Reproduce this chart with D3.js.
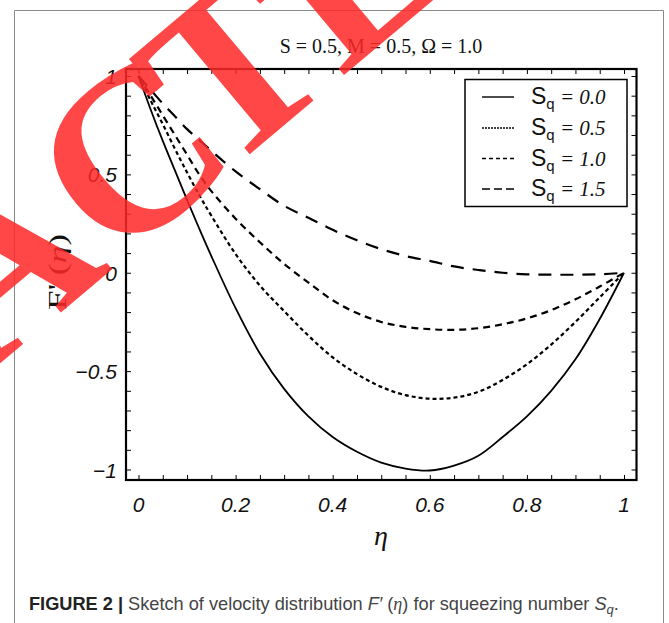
<!DOCTYPE html>
<html><head><meta charset="utf-8">
<script src="https://cdn.jsdelivr.net/npm/d3@7"></script>
<style>body{margin:0;background:#fff} svg{display:block}</style>
</head><body><svg id="c" width="669" height="623"></svg>
<script>
// ---- data ----
const eta  = [0, 0.025, 0.05, 0.075, 0.1, 0.125, 0.15, 0.2, 0.25, 0.3, 0.35, 0.4, 0.45, 0.5, 0.55, 0.6, 0.65, 0.7, 0.75, 0.8, 0.85, 0.9, 0.95, 1];
const sq00 = [1, 0.83, 0.67, 0.52, 0.37, 0.225, 0.085, -0.18, -0.41, -0.59, -0.73, -0.835, -0.91, -0.965, -0.995, -1.005, -0.98, -0.93, -0.835, -0.73, -0.6, -0.44, -0.235, 0];
const sq05 = [1, 0.875, 0.755, 0.63, 0.51, 0.395, 0.29, 0.095, -0.065, -0.195, -0.32, -0.43, -0.515, -0.58, -0.622, -0.64, -0.635, -0.605, -0.545, -0.465, -0.365, -0.25, -0.125, 0];
const sq10 = [1, 0.9, 0.8, 0.7, 0.6, 0.5, 0.415, 0.275, 0.155, 0.045, -0.05, -0.14, -0.205, -0.25, -0.275, -0.287, -0.29, -0.282, -0.262, -0.232, -0.19, -0.135, -0.07, 0];
const sq15 = [1, 0.93, 0.86, 0.795, 0.73, 0.675, 0.62, 0.515, 0.425, 0.34, 0.28, 0.218, 0.165, 0.12, 0.085, 0.06, 0.032, 0.014, 0.0, -0.008, -0.01, -0.01, -0.008, 0];
const sqValues = ["0.0", "0.5", "1.0", "1.5"];
const xTickValues = [0, 0.2, 0.4, 0.6, 0.8, 1];
const xTickLabels = ["0", "0.2", "0.4", "0.6", "0.8", "1"];
const yTickValues = [-1, -0.5, 0, 0.5, 1];
const yTickLabels = ["\u22121", "\u22120.5", "0", "0.5", "1"];
const watermark = "RETRACTED";

const series = [sq00, sq05, sq10, sq15];
const dashes = [null, "4,3", "7,5", "13,9"];
const legendDashes = [null, "2,1", "4,3", "8,4"];

const svg = d3.select("#c");
svg.append("rect").attr("width", 669).attr("height", 623).attr("fill", "#fff");

// outer figure border
svg.append("path").attr("d", "M14.5,623 V10.5 H663.5 V623")
  .attr("fill", "none").attr("stroke", "#8a8a8a").attr("stroke-width", 1);

// scales
const x = d3.scaleLinear().domain([0, 1]).range([138.5, 624]);
const y = d3.scaleLinear().domain([-1, 1]).range([469.5, 76]);
const L = 126, R = 636.5, T = 69, B = 480;

// ticks (inside, all four sides)
const xMinor = d3.range(0, 1.0001, 0.05);
const yMinor = d3.range(-1, 1.0001, 0.1);
const bx = d3.axisBottom(x).tickValues(xMinor).tickSize(-5).tickFormat("");
const tx = d3.axisTop(x).tickValues(xMinor).tickSize(-5).tickFormat("");
const ly = d3.axisLeft(y).tickValues(yMinor).tickSize(-5).tickFormat("");
const ry = d3.axisRight(y).tickValues(yMinor).tickSize(-5).tickFormat("");
svg.append("g").attr("transform", `translate(0,${B})`).call(bx).call(g => g.select(".domain").remove());
svg.append("g").attr("transform", `translate(0,${T})`).call(tx).call(g => g.select(".domain").remove());
svg.append("g").attr("transform", `translate(${L},0)`).call(ly).call(g => g.select(".domain").remove());
svg.append("g").attr("transform", `translate(${R},0)`).call(ry).call(g => g.select(".domain").remove());

// frame
svg.append("rect").attr("x", L).attr("y", T).attr("width", R - L).attr("height", B - T)
  .attr("fill", "none").attr("stroke", "#000").attr("stroke-width", 2.2);

// tick labels
svg.append("g").selectAll("text").data(xTickValues).join("text")
  .attr("x", d => x(d)).attr("y", 512).attr("text-anchor", "middle")
  .attr("font-family", "Liberation Sans, Arial, sans-serif").attr("font-style", "italic")
  .attr("font-size", 21).attr("fill", "#111")
  .text((d, i) => xTickLabels[i]);
svg.append("g").selectAll("text").data(yTickValues).join("text")
  .attr("x", 117).attr("y", d => y(d) + 8).attr("text-anchor", "end")
  .attr("font-family", "Liberation Sans, Arial, sans-serif").attr("font-style", "italic")
  .attr("font-size", 21).attr("fill", "#111")
  .text((d, i) => yTickLabels[i]);

// title
svg.append("text").attr("x", 381).attr("y", 53).attr("text-anchor", "middle")
  .attr("font-family", "Liberation Serif, Times New Roman, serif").attr("font-size", 20)
  .attr("fill", "#111").text("S = 0.5, M = 0.5, \u03A9 = 1.0");

// axis titles
const yt = svg.append("text").attr("transform", "translate(66,272) rotate(-90)").attr("text-anchor", "middle")
  .attr("font-family", "Liberation Serif, Times New Roman, serif").attr("font-size", 26)
  .attr("textLength", 76).attr("lengthAdjust", "spacingAndGlyphs").attr("fill", "#111");
yt.append("tspan").text("F' (");
yt.append("tspan").attr("font-style", "italic").text("\u03B7");
yt.append("tspan").text(")");
svg.append("text").attr("x", 381).attr("y", 545).attr("text-anchor", "middle")
  .attr("font-family", "Liberation Serif, Times New Roman, serif").attr("font-style", "italic")
  .attr("font-size", 28).attr("fill", "#111").text("\u03B7");

// curves
const line = d3.line().x((d, i) => x(eta[i])).y(d => y(d)).curve(d3.curveCatmullRom.alpha(0.5));
svg.append("g").selectAll("path").data(series).join("path")
  .attr("d", line).attr("fill", "none").attr("stroke", "#000")
  .attr("stroke-width", (d, i) => i === 0 ? 1.8 : 2.2)
  .attr("stroke-dasharray", (d, i) => dashes[i]);

// legend
const lg = svg.append("g");
lg.append("rect").attr("x", 465).attr("y", 79.5).attr("width", 162).attr("height", 127)
  .attr("fill", "#fff").attr("stroke", "#000").attr("stroke-width", 1.5);
const rowY = [97, 128, 158.5, 189];
sqValues.forEach((v, i) => {
  lg.append("line").attr("x1", 482).attr("x2", 514).attr("y1", rowY[i]).attr("y2", rowY[i])
    .attr("stroke", "#000").attr("stroke-width", 1.4).attr("stroke-dasharray", legendDashes[i]);
  const t = lg.append("text").attr("x", 531).attr("y", rowY[i] + 7).attr("fill", "#111").attr("font-size", 21);
  t.append("tspan").attr("font-family", "Liberation Sans, Arial, sans-serif").attr("font-size", 23).text("S");
  t.append("tspan").attr("font-family", "Liberation Sans, Arial, sans-serif").attr("font-size", 15).attr("dy", 5).text("q");
  t.append("tspan").attr("font-family", "Liberation Serif, Times New Roman, serif").attr("font-style", "italic").attr("dy", -5).text(" = " + v);
});

// caption
const cap = svg.append("text").attr("x", 29).attr("y", 610).attr("font-size", 18.2)
  .attr("font-family", "Liberation Sans, Arial, sans-serif").attr("fill", "#444");
cap.append("tspan").attr("font-weight", "bold").attr("fill", "#222").text("FIGURE 2 | ");
cap.append("tspan").text("Sketch of velocity distribution ");
cap.append("tspan").attr("font-style", "italic").text("F\u2032");
cap.append("tspan").text(" (");
cap.append("tspan").attr("font-family", "Liberation Serif, serif").attr("font-style", "italic").text("\u03B7");
cap.append("tspan").text(") for squeezing number ");
cap.append("tspan").attr("font-style", "italic").text("S");
cap.append("tspan").attr("font-style", "italic").attr("font-size", 13).attr("dy", 4).text("q");
cap.append("tspan").attr("dy", -4).text(".");

// watermark (letters placed along a rotated baseline)
svg.append("text").attr("transform", "translate(282,127) rotate(-40)")
  .attr("x", "-1025 -859 -706 -552 -386 -218 -77 77 230").attr("y", 0)
  .attr("font-family", "Liberation Serif, Times New Roman, serif").attr("font-weight", "bold")
  .attr("font-size", 230).attr("fill", "rgb(255,40,40)").attr("opacity", 0.85)
  .text(watermark);
</script></body></html>
